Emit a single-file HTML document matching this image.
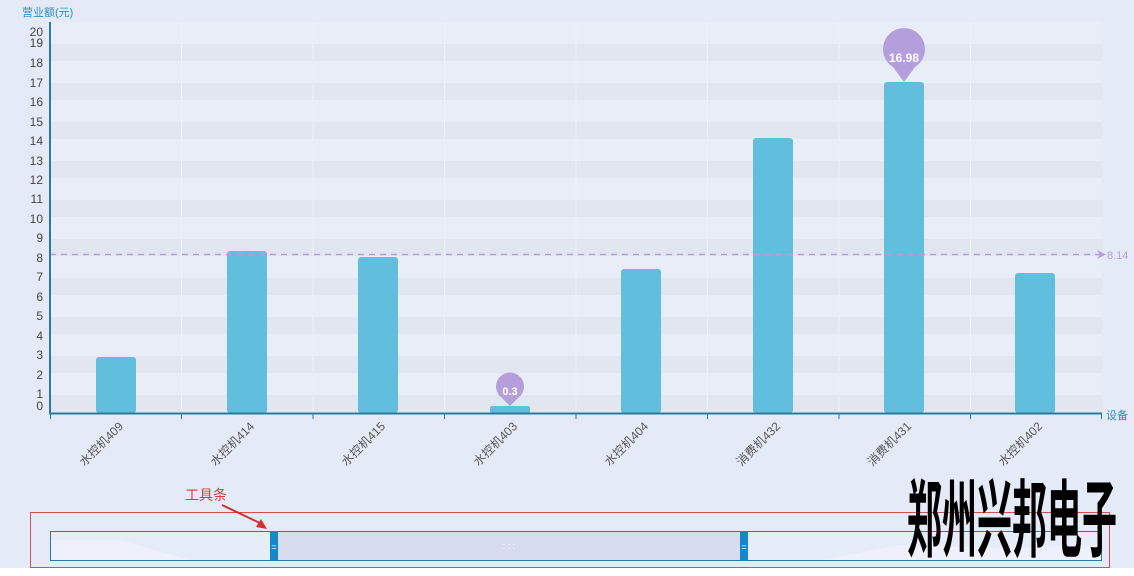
<!DOCTYPE html>
<html><head><meta charset="utf-8"><style>
body{margin:0;width:1134px;height:576px;overflow:hidden;background:#fff}
svg{display:block}
text{font-family:"Liberation Sans","Noto Sans CJK SC",sans-serif}
</style></head><body>
<svg width="1134" height="576" xmlns="http://www.w3.org/2000/svg">
<rect x="0" y="0" width="1134" height="568" fill="#e5ebf6"/>
<rect x="50" y="22" width="1052" height="391" fill="#e8edf8"/>
<g fill="#e1e6f1">
<rect x="50" y="44" width="1052" height="17"/><rect x="50" y="83" width="1052" height="17"/>
<rect x="50" y="122" width="1052" height="17"/><rect x="50" y="161" width="1052" height="17"/>
<rect x="50" y="200" width="1052" height="17"/><rect x="50" y="239" width="1052" height="17"/>
<rect x="50" y="278" width="1052" height="17"/><rect x="50" y="317" width="1052" height="17"/>
<rect x="50" y="356" width="1052" height="17"/><rect x="50" y="395" width="1052" height="17"/>
</g>
<g stroke="#edf1fa" stroke-width="1">
<line x1="181.5" y1="22" x2="181.5" y2="413"/><line x1="313" y1="22" x2="313" y2="413"/><line x1="444.5" y1="22" x2="444.5" y2="413"/><line x1="576" y1="22" x2="576" y2="413"/><line x1="707.5" y1="22" x2="707.5" y2="413"/><line x1="839" y1="22" x2="839" y2="413"/><line x1="970.5" y1="22" x2="970.5" y2="413"/>
</g>
<g fill="#61bfdd">
<rect x="96" y="357" width="40" height="56" rx="3"/>
<rect x="227" y="251" width="40" height="162" rx="3"/>
<rect x="358" y="257" width="40" height="156" rx="3"/>
<rect x="490" y="406" width="40" height="7" rx="2"/>
<rect x="621" y="269" width="40" height="144" rx="3"/>
<rect x="753" y="138" width="40" height="275" rx="3"/>
<rect x="884" y="82" width="40" height="331" rx="3"/>
<rect x="1015" y="273" width="40" height="140" rx="3"/>
</g>
<line x1="50" y1="254.5" x2="1100" y2="254.5" stroke="#b49fdc" stroke-width="1.5" stroke-dasharray="6,5"/>
<path d="M1097 250 L1106 254.5 L1097 259 L1100 254.5Z" fill="#b49fdc"/>
<text x="1107" y="259" font-size="11" fill="#b49fdc">8.14</text>
<g fill="#b49fdc">
<path d="M904 82 L893 67 A21 21 0 1 1 915 67 Z"/>
<path d="M510 406 L502 398 A14 14 0 1 1 518 398 Z"/>
</g>
<text x="904" y="62" font-size="12" font-weight="bold" fill="#fff" text-anchor="middle">16.98</text>
<text x="510" y="395" font-size="11" font-weight="bold" fill="#fff" text-anchor="middle">0.3</text>
<line x1="50" y1="22" x2="50" y2="414" stroke="#2a7a9b" stroke-width="2"/>
<line x1="49" y1="413.5" x2="1102" y2="413.5" stroke="#2a7a9b" stroke-width="2"/>
<g stroke="#2a7a9b"><line x1="50.5" y1="414" x2="50.5" y2="419"/><line x1="181.5" y1="414" x2="181.5" y2="419"/><line x1="313" y1="414" x2="313" y2="419"/><line x1="444.5" y1="414" x2="444.5" y2="419"/><line x1="576" y1="414" x2="576" y2="419"/><line x1="707.5" y1="414" x2="707.5" y2="419"/><line x1="839" y1="414" x2="839" y2="419"/><line x1="970.5" y1="414" x2="970.5" y2="419"/><line x1="1101.5" y1="414" x2="1101.5" y2="419"/></g>
<text x="22" y="16" font-size="11" fill="#2a8fc0">营业额(元)</text>
<text x="1106" y="419" font-size="11" fill="#2a8fc0">设备</text>
<g font-size="12" fill="#444" text-anchor="end">
<text x="43" y="36">20</text><text x="43" y="47">19</text><text x="43" y="67">18</text><text x="43" y="87">17</text><text x="43" y="106">16</text><text x="43" y="126">15</text><text x="43" y="145">14</text><text x="43" y="165">13</text><text x="43" y="184">12</text><text x="43" y="203">11</text><text x="43" y="223">10</text><text x="43" y="242">9</text><text x="43" y="262">8</text><text x="43" y="281">7</text><text x="43" y="301">6</text><text x="43" y="320">5</text><text x="43" y="340">4</text><text x="43" y="359">3</text><text x="43" y="379">2</text><text x="43" y="398">1</text><text x="43" y="410">0</text>
</g>
<g font-size="12" fill="#555" text-anchor="end">
<text transform="translate(124,427) rotate(-45)">水控机409</text>
<text transform="translate(255,427) rotate(-45)">水控机414</text>
<text transform="translate(386,427) rotate(-45)">水控机415</text>
<text transform="translate(518,427) rotate(-45)">水控机403</text>
<text transform="translate(649,427) rotate(-45)">水控机404</text>
<text transform="translate(781,427) rotate(-45)">消费机432</text>
<text transform="translate(912,427) rotate(-45)">消费机431</text>
<text transform="translate(1043,427) rotate(-45)">水控机402</text>
</g>
<rect x="30.5" y="512.5" width="1079" height="55" fill="none" stroke="#d05050" stroke-width="1"/>
<text x="185" y="500" font-size="14" fill="#d04040">工具条</text>
<line x1="222" y1="505" x2="262" y2="524" stroke="#d03030" stroke-width="2"/>
<path d="M267 529 L256 527 L261 519Z" fill="#d03030"/>
<rect x="50.5" y="531.5" width="1051" height="29" fill="#e6ecf8" stroke="#2a7a9b"/>
<path d="M51 540 L120 540 L190 560 L51 560Z" fill="#eef0fb"/>
<path d="M820 560 L900 545 L1000 548 L1101 545 L1101 560Z" fill="#eef0fb"/>
<rect x="278" y="532" width="462" height="28" fill="#d8dcf0"/>
<text x="509" y="549" font-size="9" fill="#fff" text-anchor="middle">: : :</text>
<rect x="270" y="531" width="8" height="30" fill="#1787c9"/>
<rect x="740" y="531" width="8" height="30" fill="#1787c9"/>
<text x="274" y="550" font-size="9" fill="#fff" text-anchor="middle">=</text>
<text x="744" y="550" font-size="9" fill="#fff" text-anchor="middle">=</text>
<text transform="translate(907,550) scale(1,2.35)" font-size="36" font-weight="bold" fill="#000" style="font-family:'Noto Sans CJK SC','WenQuanYi Zen Hei',sans-serif" textLength="210" lengthAdjust="spacingAndGlyphs">郑州兴邦电子</text>
</svg>
</body></html>
